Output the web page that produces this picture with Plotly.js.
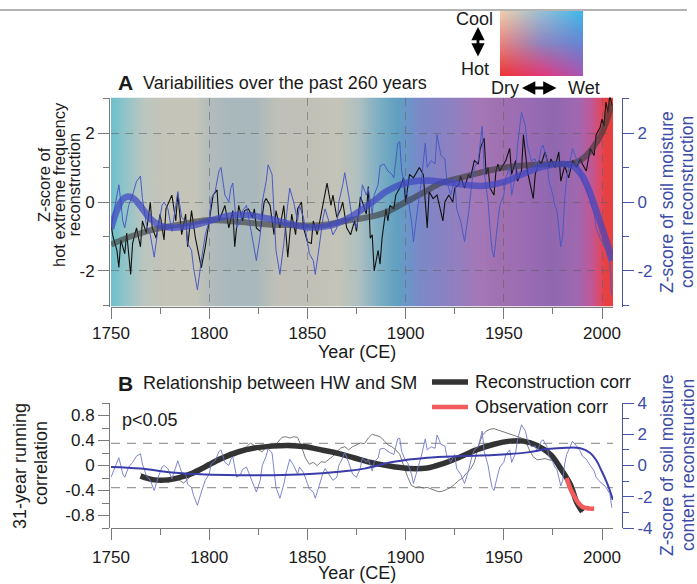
<!DOCTYPE html>
<html><head><meta charset="utf-8">
<script src="https://cdn.plot.ly/plotly-3.0.1.min.js"></script>
<style>html,body{margin:0;padding:0;background:#fff;}#chart{width:697px;height:584px;}</style>
</head><body><div id="chart"></div>
<script>
// ---------------- DATA ----------------
// Panel A: hot extreme frequency reconstruction (annual, thin black)
const hotYears = [
 1750,1751,1753,1754,1755,1757,1758,1760,1761,1763,1765,1766,1768,
 1770,1771,1773,1775,1777,1778,1781,1783,1784,1786,1788,1789,
 1791,1793,1795,1796,1798,1800,1802,1804,1805,1808,1810,
 1812,1813,1815,1817,1818,1820,1822,1823,1824,1826,1828,1829,
 1831,1833,1834,1836,1838,1840,1842,1844,1845,1847,1848,1850,
 1852,1853,1855,1857,1860,1862,1863,1865,1867,1868,1870,
 1872,1874,1875,1877,1878,1880,1881,1882,1883,1884,1886,1887,1888,1890,
 1891,1892,1894,1895,1897,1899,1900,1902,1904,1906,1907,1909,1910,
 1911,1912,1914,1916,1918,1919,1920,1922,1924,1925,1927,1928,1930,
 1932,1933,1935,1937,1938,1940,1941,1942,1943,1945,1946,1947,1948,1950,
 1951,1953,1954,1956,1957,1959,1960,1962,1963,1965,1966,1968,1969,
 1971,1973,1974,1976,1978,1979,1981,1983,1985,1987,1989,1990,
 1992,1994,1996,1997,1999,2000,2001,2002,2003,2004,2005];
const hotVals = [
 -0.65,-1.0,-1.4,-1.9,-1.1,-1.5,-0.9,-2.1,-1.2,-0.75,-1.3,-0.55,-0.9,
 0.0,-0.75,-1.05,-0.35,-1.1,-0.2,0.2,-0.55,0.25,-0.95,-0.35,-1.3,
 -0.25,-1.05,-1.6,-1.9,-1.3,-0.55,0.2,0.35,-0.55,-0.1,-0.75,
 -0.25,-1.3,-0.1,-0.55,-0.25,-0.2,-0.45,-0.2,-0.75,-0.85,0.0,0.1,
 -0.1,-0.95,-0.25,-0.75,-0.1,-1.6,-0.35,-0.95,-0.2,0.0,-0.75,-1.15,
 -1.2,-0.55,-0.95,-0.35,0.55,-0.1,0.2,-0.45,-0.2,0.0,-0.75,
 -0.95,-0.55,-0.85,0.15,0.0,-0.35,0.45,-1.05,-0.95,-2.0,-1.4,-1.8,-1.05,-0.2,
 -0.55,-0.1,-0.2,0.2,0.4,0.7,0.0,0.8,0.7,0.9,1.0,0.8,-0.1,
 -0.75,0.3,0.1,0.2,-0.35,-0.55,0.0,0.2,0.0,0.4,0.5,0.75,0.4,
 0.8,0.7,1.2,1.1,1.55,1.85,0.8,1.0,0.4,0.2,0.9,1.1,0.9,1.1,
 1.2,1.55,0.8,1.2,0.6,0.9,1.95,0.9,0.6,0.1,0.8,1.2,1.1,
 1.45,1.0,1.25,1.0,1.45,0.6,1.05,0.7,1.2,1.0,1.25,1.1,
 0.9,1.55,1.35,1.95,2.15,2.4,2.2,2.9,2.6,3.1,2.8];

// Soil moisture content reconstruction (annual, thin blue) – used in A and B
const smYears = [
 1750,1752,1754,1755,1756,1757,1759,1761,1763,1765,1766,1768,
 1770,1772,1774,1776,1777,1779,1781,1783,1784,1786,1788,1789,
 1791,1792,1794,1796,1798,1800,1801,1803,1805,1806,1808,1810,
 1811,1812,1814,1816,1817,1819,1821,1823,1824,1826,1827,1829,
 1830,1832,1833,1834,1836,1838,1839,1841,1843,1845,1846,1848,
 1850,1851,1853,1854,1856,1858,1859,1861,1863,1865,1866,1868,
 1869,1871,1873,1875,1877,1878,1880,1881,1883,1884,1886,1887,
 1889,1891,1893,1894,1896,1897,1898,1900,1901,1903,1904,1906,
 1908,1910,1911,1913,1915,1916,1918,1920,1921,1923,1925,1926,
 1928,1930,1932,1934,1935,1937,1939,1940,1942,1943,1944,1945,
 1946,1947,1948,1950,1951,1953,1954,1956,1957,1959,1961,1962,
 1964,1966,1967,1969,1970,1972,1973,1975,1976,1977,1978,1979,
 1980,1981,1982,1984,1985,1987,1989,1990,1992,1994,1996,1997,
 1999,2001,2002,2004,2005];
const smVals = [
 -0.75,-0.1,0.5,0.0,-0.55,-0.75,-0.1,0.2,0.6,0.75,0.1,-0.65,
 -0.95,-1.6,-0.75,-0.1,0.0,-0.2,-0.85,-0.1,0.3,-0.45,-0.55,-1.2,
 -1.4,-1.9,-2.55,-1.7,-0.95,-0.55,0.1,0.3,0.9,1.0,0.2,0.0,
 0.4,0.55,-0.75,-0.55,-0.25,-0.1,-0.75,-1.4,-1.7,-0.95,0.0,0.6,
 1.08,0.8,-0.25,-1.4,-2.1,-1.2,-0.55,0.4,0.0,-0.55,-0.1,-0.45,
 -1.15,-1.5,-1.7,-2.1,-1.3,-0.45,-0.2,-0.55,-0.95,-0.75,0.0,0.5,
 0.85,0.2,-0.55,-0.75,-0.15,0.5,0.2,0.4,-0.35,0.2,0.5,1.05,
 1.1,0.9,0.8,0.7,1.7,1.75,0.9,0.3,0.2,-0.55,-1.15,-0.25,
 0.6,1.7,1.0,1.2,1.1,1.95,1.35,1.25,0.6,0.2,0.7,-0.2,
 -0.55,-1.15,-0.35,0.7,1.0,1.2,2.2,0.9,0.0,-0.75,-1.4,-1.6,
 -0.95,-0.55,-0.1,0.2,0.7,1.0,0.2,0.8,1.65,2.6,2.2,1.65,
 1.2,1.25,0.9,1.55,1.65,1.2,0.6,0.2,-0.1,-0.25,-0.75,-1.3,
 -0.95,0.1,0.7,1.25,1.55,1.25,0.9,0.6,0.4,0.0,-0.35,-0.75,
 -1.05,-1.25,-1.4,-1.8,-2.7];

// Smoothed curves, panel A
const hotSmoothYears = [1750,1760,1770,1780,1790,1800,1810,1820,1830,1840,1850,1860,1867,1880,1890,1900,1910,1918,1925,1940,1950,1960,1975,1985,1990,1995,2000,2005];
const hotSmoothVals  = [-1.23,-1.0,-0.82,-0.7,-0.6,-0.52,-0.55,-0.6,-0.65,-0.67,-0.68,-0.65,-0.57,-0.45,-0.3,0.0,0.3,0.55,0.66,0.88,1.0,1.06,1.1,1.12,1.25,1.55,2.0,2.85];
const smSmoothAYears = [1750,1753,1756,1759,1762,1765,1770,1775,1780,1790,1800,1810,1820,1830,1840,1850,1860,1870,1877,1885,1890,1900,1910,1920,1930,1940,1950,1960,1970,1980,1985,1990,1995,2000,2005.5];
const smSmoothAVals  = [-0.78,-0.25,0.08,0.16,0.08,-0.12,-0.48,-0.68,-0.74,-0.7,-0.55,-0.4,-0.38,-0.48,-0.62,-0.73,-0.7,-0.5,-0.25,0.08,0.3,0.55,0.62,0.58,0.5,0.47,0.58,0.82,1.03,1.1,1.05,0.75,0.1,-0.75,-1.7];

// Panel B: 31-year running correlation (reconstruction, thin grey)
const reconCorrYears = [
 1765,1767,1769,1771,1773,1775,1777,1779,1781,1783,1785,1787,1789,
 1791,1793,1795,1797,1799,1801,1803,1805,1807,1809,1811,1813,1815,
 1817,1819,1821,1823,1825,1827,1829,1831,1833,1835,1837,1839,1841,
 1843,1845,1847,1849,1851,1853,1855,1857,1859,1861,1863,1865,1867,
 1869,1871,1873,1875,1877,1879,1881,1883,1885,1887,1889,1891,1893,
 1895,1897,1899,1901,1903,1905,1907,1909,1911,1913,1915,1917,1919,
 1921,1923,1925,1927,1929,1931,1933,1935,1937,1939,1941,1943,1945,
 1947,1949,1951,1953,1955,1957,1959,1961,1963,1965,1967,1969,1971,
 1973,1975,1977,1979,1981,1983,1985,1987,1989,1990];
const reconCorrVals = [
 -0.12,-0.18,-0.22,-0.25,-0.2,-0.26,-0.22,-0.27,-0.24,-0.2,-0.24,-0.28,-0.22,
 -0.15,-0.05,-0.12,-0.02,0.05,0.0,0.08,0.14,0.1,0.18,0.22,0.15,0.2,
 0.27,0.3,0.36,0.32,0.25,0.22,0.3,0.35,0.3,0.38,0.45,0.46,0.44,
 0.46,0.45,0.3,0.12,0.02,0.05,0.0,0.06,0.05,0.1,0.15,0.22,0.28,
 0.3,0.25,0.3,0.33,0.36,0.35,0.44,0.5,0.48,0.46,0.4,0.33,0.3,
 0.25,0.18,0.0,-0.18,-0.32,-0.35,-0.34,-0.36,-0.35,-0.38,-0.4,-0.42,-0.41,
 -0.38,-0.35,-0.3,-0.24,-0.2,-0.12,-0.06,0.05,0.3,0.48,0.55,0.58,0.59,
 0.57,0.55,0.53,0.5,0.48,0.47,0.44,0.4,0.25,0.14,0.09,0.1,0.11,
 0.09,0.08,0.02,-0.06,-0.14,-0.22,-0.35,-0.5,-0.68,-0.75];

// Smoothed reconstruction correlation (thick black)
const reconSmoothYears = [1765,1772,1779,1785,1791,1798,1806,1815,1823,1832,1840,1849,1857,1866,1874,1885,1894,1902,1911,1919,1928,1936,1945,1953,1960,1967,1974,1979,1984,1987,1990];
const reconSmoothVals  = [-0.17,-0.23,-0.23,-0.19,-0.13,-0.02,0.11,0.22,0.28,0.31,0.32,0.3,0.25,0.19,0.12,0.03,-0.02,-0.05,-0.04,0.03,0.14,0.25,0.34,0.39,0.39,0.32,0.17,-0.05,-0.31,-0.58,-0.74];

// Observation correlation (red)
const obsCorrYears = [1982,1984,1986,1988,1990,1992,1994,1996];
const obsCorrVals  = [-0.2,-0.38,-0.5,-0.6,-0.66,-0.68,-0.69,-0.69];

// Smoothed soil moisture, panel B (right axis)
const smSmoothBYears = [1750,1765,1781,1798,1815,1832,1849,1866,1879,1894,1911,1928,1945,1962,1972,1982,1989,1994,1997,2000,2002,2004,2005.5];
const smSmoothBVals  = [-0.1,-0.2,-0.45,-0.58,-0.62,-0.62,-0.56,-0.4,-0.2,0.24,0.5,0.6,0.67,0.84,1.05,1.14,1.1,0.8,0.35,-0.4,-0.95,-1.6,-2.2];

const pThreshold = [0.355, -0.355];

// Tick labels
const xTickVals = [1750,1800,1850,1900,1950,2000];
const xMinorVals = [1775,1825,1875,1925,1975];
const aTickVals = [-2,0,2];
const aTickText = ['-2','0','2'];
const aMinorVals = [-3,-1,1,3];
const bLeftTickVals = [-0.8,-0.4,0,0.4,0.8];
const bLeftTickText = ['-0.8','-0.4','0','0.4','0.8'];
const bLeftMinorVals = [-1,-0.6,-0.2,0.2,0.6,1];
const bRightTickVals = [-4,-2,0,2,4];
const bRightTickText = ['-4','-2','0','2','4'];
const bRightMinorVals = [-3,-1,1,3];

// Background colours of panel A (year -> colour)
const bgYears  = [1750,1757,1767,1777,1794,1800,1811,1823,1835,1849,1866,1876,1886,1896,1900,1908,1925,1937,1950,1961,1976,1988,1995,2000,2002,2006];
const bgColors = ['#6cc0cc','#90c4c8','#bcc6c0','#c4c4b8','#c4c4b8','#b4bcbc','#a8b8bc','#a8b8bc','#c0c0b8','#c0c0b8','#c4c4b8','#b0c0c0','#80b0c4','#60a0c0','#6a98c8','#7c88c8','#9080c0','#a478b8','#a070b0','#9a6cb4','#9068b0','#a068b0','#c05898','#e04860','#e84040','#e84040'];

// Colour key (3x3 grid, rows top->bottom: cool -> hot, cols: dry -> wet)
const keyColors = [
 [[240,205,170],[150,190,212],[60,184,236]],
 [[232,130,128],[142,132,190],[100,132,212]],
 [[236,52,52],[226,56,122],[166,86,180]]];

// ---------------- HELPERS ----------------
const W = 697, H = 584;
const X = px => px / W;
const Y = py => 1 - py / H;
const FONT = 'Liberation Sans, Arial, Helvetica, sans-serif';
const BLUE_AX = '#4a56aa';
const GREY_AX = '#7a7a7a';

function bgImage() {
  const c = document.createElement('canvas');
  c.width = 512; c.height = 4;
  const ctx = c.getContext('2d');
  const g = ctx.createLinearGradient(0, 0, 512, 0);
  const y0 = bgYears[0], y1 = bgYears[bgYears.length - 1];
  bgYears.forEach((yr, i) => g.addColorStop((yr - y0) / (y1 - y0), bgColors[i]));
  ctx.fillStyle = g; ctx.fillRect(0, 0, 512, 4);
  return c.toDataURL();
}
function keyImage() {
  const nw = 83, nh = 65;
  const c = document.createElement('canvas');
  c.width = nw; c.height = nh;
  const ctx = c.getContext('2d');
  const img = ctx.createImageData(nw, nh);
  const lerp = (a, b, t) => a + (b - a) * t;
  for (let j = 0; j < nh; j++) {
    const v = j / (nh - 1) * 2; const r0 = Math.min(1, Math.floor(v)); const tv = v - r0;
    for (let i = 0; i < nw; i++) {
      const u = i / (nw - 1) * 2; const c0 = Math.min(1, Math.floor(u)); const tu = u - c0;
      for (let k = 0; k < 3; k++) {
        const a = lerp(keyColors[r0][c0][k], keyColors[r0][c0 + 1][k], tu);
        const b = lerp(keyColors[r0 + 1][c0][k], keyColors[r0 + 1][c0 + 1][k], tu);
        img.data[(j * nw + i) * 4 + k] = Math.round(lerp(a, b, tv));
      }
      img.data[(j * nw + i) * 4 + 3] = 255;
    }
  }
  ctx.putImageData(img, 0, 0);
  return c.toDataURL();
}

// ---------------- TRACES ----------------
const traces = [
  {x: smYears, y: smVals, xaxis: 'x', yaxis: 'y2', mode: 'lines', line: {color: '#4a5ac4', width: 1}, hoverinfo: 'skip'},
  {x: hotYears, y: hotVals, xaxis: 'x', yaxis: 'y', mode: 'lines', line: {color: '#111111', width: 1.1}, hoverinfo: 'skip'},
  {x: hotSmoothYears, y: hotSmoothVals, xaxis: 'x', yaxis: 'y', mode: 'lines', line: {color: 'rgba(55,55,55,0.6)', width: 6, shape: 'spline'}, hoverinfo: 'skip'},
  {x: smSmoothAYears, y: smSmoothAVals, xaxis: 'x', yaxis: 'y2', mode: 'lines', line: {color: 'rgba(62,70,192,0.72)', width: 6.5, shape: 'spline'}, hoverinfo: 'skip'},

  {x: smYears, y: smVals, xaxis: 'x2', yaxis: 'y4', mode: 'lines', line: {color: '#6f78c8', width: 0.9}, hoverinfo: 'skip'},
  {x: reconCorrYears, y: reconCorrVals, xaxis: 'x2', yaxis: 'y3', mode: 'lines', line: {color: '#6a6a6a', width: 0.9}, hoverinfo: 'skip'},
  {x: smSmoothBYears, y: smSmoothBVals, xaxis: 'x2', yaxis: 'y4', mode: 'lines', line: {color: '#3a3caa', width: 2, shape: 'spline'}, hoverinfo: 'skip'},
  {x: reconSmoothYears, y: reconSmoothVals, xaxis: 'x2', yaxis: 'y3', mode: 'lines', line: {color: '#333333', width: 5.5, shape: 'spline'}, hoverinfo: 'skip'},
  {x: obsCorrYears, y: obsCorrVals, xaxis: 'x2', yaxis: 'y3', mode: 'lines', line: {color: '#f25c5c', width: 4.5, shape: 'spline'}, hoverinfo: 'skip'}
];

// ---------------- AXES ----------------
const xDom = [X(111), X(613)];
const xRange = [1750, 2005.6];
function xAxis(anchor, gridOn, standoff) {
  return {
    domain: xDom, range: xRange, anchor: anchor,
    tickmode: 'array', tickvals: xTickVals, ticktext: xTickVals.map(String),
    ticks: 'outside', ticklen: 11, tickcolor: GREY_AX, tickwidth: 1,
    minor: {tickmode: 'array', tickvals: xMinorVals, ticks: 'outside', ticklen: 6, tickcolor: GREY_AX, showgrid: false},
    showline: true, linecolor: GREY_AX, linewidth: 1,
    tickfont: {size: 17, color: '#1a1a1a', family: FONT},
    ticklabelstandoff: standoff,
    showgrid: gridOn, gridcolor: 'rgba(95,95,95,0.55)', gridwidth: 1, griddash: '8px,6px',
    zeroline: false, fixedrange: true
  };
}
function yAxis(opts) {
  return Object.assign({
    ticks: 'outside', ticklen: 11, tickwidth: 1,
    showline: true, linewidth: 1, zeroline: false, fixedrange: true,
    tickmode: 'array', showgrid: false
  }, opts);
}

const layout = {
  width: W, height: H,
  margin: {l: 0, r: 0, t: 0, b: 0},
  paper_bgcolor: '#ffffff', plot_bgcolor: 'rgba(0,0,0,0)',
  showlegend: false,
  font: {family: FONT, color: '#1a1a1a'},
  xaxis: xAxis('y', true, 0),
  yaxis: yAxis({domain: [Y(306.5), Y(97.5)], range: [-3.03, 3.03], anchor: 'free', position: X(109),
    tickvals: aTickVals, ticktext: aTickText, tickcolor: GREY_AX, linecolor: GREY_AX,
    minor: {tickmode: 'array', tickvals: aMinorVals, ticks: 'outside', ticklen: 6, tickcolor: GREY_AX},
    tickfont: {size: 17, color: '#1a1a1a'},
    showgrid: true, gridcolor: 'rgba(95,95,95,0.55)', gridwidth: 1, griddash: '8px,6px'}),
  yaxis2: yAxis({overlaying: 'y', side: 'right', range: [-3.03, 3.03], anchor: 'free', position: X(622),
    tickvals: aTickVals, ticktext: aTickText, tickcolor: BLUE_AX, linecolor: BLUE_AX,
    minor: {tickmode: 'array', tickvals: aMinorVals, ticks: 'outside', ticklen: 6, tickcolor: BLUE_AX},
    tickfont: {size: 17, color: '#3c4ca8'}}),
  xaxis2: xAxis('y3', false, 3),
  yaxis3: yAxis({domain: [Y(528), Y(403)], range: [-1.0, 1.0], anchor: 'free', position: X(109),
    tickvals: bLeftTickVals, ticktext: bLeftTickText, tickcolor: GREY_AX, linecolor: GREY_AX,
    minor: {tickmode: 'array', tickvals: bLeftMinorVals, ticks: 'outside', ticklen: 7, tickcolor: GREY_AX},
    tickfont: {size: 17, color: '#1a1a1a'}}),
  yaxis4: yAxis({overlaying: 'y3', side: 'right', range: [-4, 4], anchor: 'free', position: X(622),
    tickvals: bRightTickVals, ticktext: bRightTickText, tickcolor: BLUE_AX, linecolor: BLUE_AX,
    minor: {tickmode: 'array', tickvals: bRightMinorVals, ticks: 'outside', ticklen: 6, tickcolor: BLUE_AX},
    tickfont: {size: 17, color: '#3c4ca8'}}),
  images: [
    {source: bgImage(), xref: 'x', yref: 'y', x: 1750, y: 3.03, sizex: 255.6, sizey: 6.06,
     sizing: 'stretch', xanchor: 'left', yanchor: 'top', layer: 'below'},
    {source: keyImage(), xref: 'paper', yref: 'paper', x: X(500), y: Y(11), sizex: 83 / W, sizey: 65 / H,
     sizing: 'stretch', xanchor: 'left', yanchor: 'top', layer: 'above'}
  ],
  shapes: [
    {type: 'line', xref: 'paper', yref: 'paper', x0: 0, x1: X(687), y0: Y(10), y1: Y(10), line: {color: '#9a9a9a', width: 1.5}},
    ...pThreshold.map(v => ({type: 'line', xref: 'x2', yref: 'y3', x0: 1750, x1: 2005.6, y0: v, y1: v, layer: 'below',
      line: {color: '#9a9a9a', width: 1.2, dash: '9px,7px'}})),
    {type: 'line', xref: 'paper', yref: 'paper', x0: X(432), x1: X(468), y0: Y(382), y1: Y(382), line: {color: '#333333', width: 5.5}},
    {type: 'line', xref: 'paper', yref: 'paper', x0: X(432), x1: X(468), y0: Y(407), y1: Y(407), line: {color: '#f25c5c', width: 4.5}}
  ],
  annotations: []
};

function ann(text, px, py, o) {
  o = o || {};
  layout.annotations.push(Object.assign({
    text: text, xref: 'paper', yref: 'paper', x: X(px), y: Y(py),
    xanchor: o.xa || 'left', yanchor: 'middle', showarrow: false,
    textangle: o.rot || 0,
    font: {size: o.size || 18, color: o.color || '#1a1a1a', family: FONT}
  }, o.extra || {}));
}
// Panel titles
ann('<b>A</b>', 116, 83, {size: 21});
ann('Variabilities over the past 260 years', 141, 83, {size: 18});
ann('<b>B</b>', 116, 383, {size: 21});
ann('Relationship between HW and SM', 141, 383, {size: 18});
// Colour key labels
ann('Cool', 474, 19, {xa: 'center'});
ann('Hot', 475, 69, {xa: 'center'});
ann('Dry', 489, 88);
ann('Wet', 566, 88);
// double-headed arrows
function arrow(px, py, dx, dy) {
  layout.annotations.push({text: '', xref: 'paper', yref: 'paper', x: X(px), y: Y(py),
    ax: dx, ay: dy, axref: 'pixel', ayref: 'pixel', showarrow: true, standoff: 0, startstandoff: 0,
    arrowhead: 2, arrowsize: 0.95, arrowwidth: 2.8, startarrowhead: 2, startarrowsize: 0.95,
    arrowcolor: '#000', arrowside: 'end+start'});
}
arrow(478, 27, 0, 31);
arrow(522, 88, 36, 0);
// Axis titles
ann('Year (CE)', 357, 352, {xa: 'center'});
ann('Year (CE)', 357, 573, {xa: 'center'});
ann('Z-score of', 44, 185, {xa: 'center', rot: -90, size: 16.5});
ann('hot extreme frequency', 59, 185, {xa: 'center', rot: -90, size: 16.5});
ann('reconstruction', 73.5, 185, {xa: 'center', rot: -90, size: 16.5});
ann('Z-score of soil moisture', 667, 202, {xa: 'center', rot: -90, color: '#3c4ca8', size: 17.5});
ann('content reconstruction', 687, 202, {xa: 'center', rot: -90, color: '#3c4ca8', size: 17.5});
ann('31-year running', 20, 466, {xa: 'center', rot: -90});
ann('correlation', 41, 463, {xa: 'center', rot: -90});
ann('Z-score of soil moisture', 667, 465, {xa: 'center', rot: -90, color: '#3c4ca8', size: 17.5});
ann('content reconstruction', 688, 465, {xa: 'center', rot: -90, color: '#3c4ca8', size: 17.5});
// Legend & note
ann('Reconstruction corr', 473, 382);
ann('Observation corr', 473, 407);
ann('p<0.05', 120, 420);

Plotly.newPlot('chart', traces, layout, {displayModeBar: false, staticPlot: true});
</script></body></html>
